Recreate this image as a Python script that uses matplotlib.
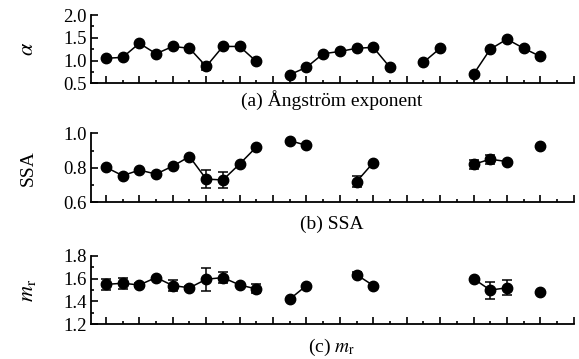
import numpy as np
import matplotlib
matplotlib.use('Agg')
import matplotlib.pyplot as plt
from matplotlib.ticker import MultipleLocator

nan = np.nan

# sample index along the x axis (no tick labels in the original)
idx = list(range(29))

alpha = [1.05, 1.07, 1.38, 1.15, 1.31, 1.27, 0.87, 1.31, 1.31, 0.98, nan,
         0.69, 0.85, 1.15, 1.20, 1.27, 1.29, 0.85, nan, 0.96, 1.27, nan,
         0.70, 1.25, 1.47, 1.27, 1.09, nan, nan]
alpha_err = [0, 0, 0, 0, 0, 0, 0.08, 0, 0, 0, 0,
             0, 0, 0, 0, 0, 0, 0, 0, 0, 0, 0,
             0, 0, 0, 0, 0, 0, 0]

ssa = [0.803, 0.755, 0.787, 0.764, 0.81, 0.865, 0.735, 0.73, 0.822, 0.92, nan,
       0.957, 0.93, nan, nan, 0.72, 0.83, nan, nan, nan, nan, nan,
       0.82, 0.85, 0.836, nan, 0.927, nan, nan]
ssa_err = [0, 0, 0, 0, 0, 0, 0.05, 0.045, 0, 0, 0,
           0, 0, 0, 0, 0.03, 0, 0, 0, 0, 0, 0,
           0.025, 0.025, 0, 0, 0, 0, 0]

mr = [1.55, 1.56, 1.545, 1.61, 1.54, 1.52, 1.595, 1.61, 1.545, 1.51, nan,
      1.42, 1.54, nan, nan, 1.635, 1.54, nan, nan, nan, nan, nan,
      1.60, 1.50, 1.52, nan, 1.48, nan, nan]
mr_err = [0.05, 0.05, 0.02, 0, 0.05, 0.02, 0.10, 0.05, 0.01, 0.04, 0,
          0, 0, 0, 0, 0.02, 0, 0, 0, 0, 0, 0,
          0, 0.075, 0.065, 0, 0, 0, 0]

plt.rcParams['font.family'] = ['Liberation Serif', 'DejaVu Serif']
plt.rcParams['mathtext.fontset'] = 'stix'

fig = plt.figure(figsize=(5.79, 3.59), dpi=100)

panels = [
    (alpha, alpha_err, (0.5, 2.0), 0.5, r'$\alpha$', 16, [0.157, 0.768, 0.834, 0.190]),
    (ssa, ssa_err, (0.6, 1.0), 0.2, 'SSA', 14, [0.157, 0.436, 0.834, 0.193]),
    (mr, mr_err, (1.2, 1.8), 0.2, r'$m_\mathrm{r}$', 16, [0.157, 0.097, 0.834, 0.190]),
]
titles = ['(a) Ångström exponent', '(b) SSA', r'(c) $m_\mathrm{r}$']
title_y = [1 - 100 / 359, 1 - 224 / 359, 1 - 347 / 359]

for (vals, err, ylim, step, ylab, lsize, rect), title, ty in zip(panels, titles, title_y):
    ax = fig.add_axes(rect)
    x = np.array(idx, dtype=float)
    v = np.array(vals, dtype=float)
    e = np.array(err, dtype=float)
    ax.plot(x, v, '-', color='black', lw=1.1, marker='o', ms=7.5, zorder=3)
    m = e > 0
    ax.errorbar(x[m], v[m], yerr=e[m], fmt='none', ecolor='black',
                elinewidth=1.1, capsize=3.5, capthick=1.1, zorder=2)
    ax.set_xlim(-0.9, 28)
    ax.set_ylim(*ylim)
    ax.xaxis.set_major_locator(MultipleLocator(2))
    ax.xaxis.set_minor_locator(MultipleLocator(1))
    ax.yaxis.set_major_locator(MultipleLocator(step))
    ax.yaxis.set_minor_locator(MultipleLocator(step / 2))
    ax.yaxis.set_major_formatter(plt.FormatStrFormatter('%.1f'))
    ax.tick_params(which='both', direction='in', width=1.2)
    ax.tick_params(which='major', length=5)
    ax.tick_params(which='minor', length=2.5)
    ax.tick_params(axis='x', labelbottom=False)
    ax.tick_params(axis='y', labelsize=13.5, pad=3)
    for s in ['top', 'right']:
        ax.spines[s].set_visible(False)
    for s in ['left', 'bottom']:
        ax.spines[s].set_linewidth(1.3)
    ax.set_ylabel(ylab, fontsize=lsize, va='center')
    ax.yaxis.set_label_coords(-0.13, 0.5)
    fig.text(0.573, ty, title, ha='center', va='center', fontsize=14)

fig.savefig('out.png', dpi=100)
